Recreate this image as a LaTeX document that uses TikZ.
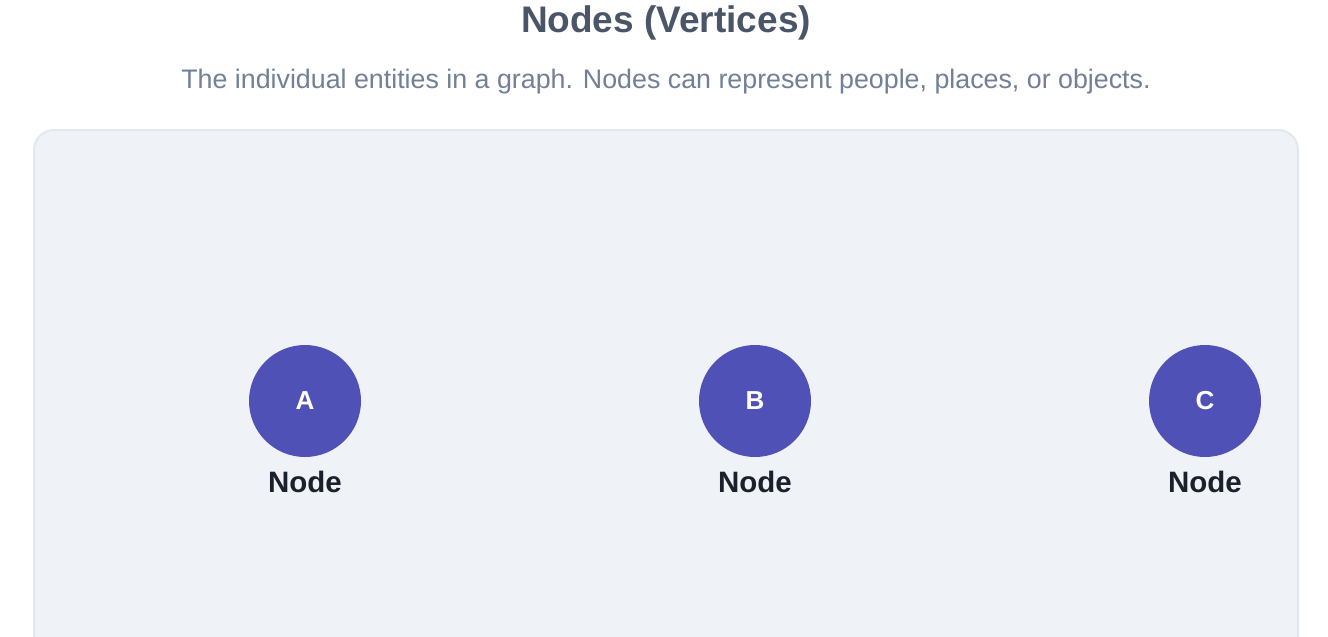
\documentclass[tikz,border=0pt]{standalone}
\usepackage{fontspec}
\setmainfont{Liberation Sans}
\usepackage{tikz}
\usetikzlibrary{positioning}
\definecolor{titlegray}{HTML}{4A5568}
\definecolor{subgray}{HTML}{718096}
\definecolor{panelfill}{HTML}{EFF3F7}
\definecolor{panelline}{HTML}{E2E8F0}
\definecolor{vertexblue}{HTML}{4F51B6}
\definecolor{labeldark}{HTML}{1A202C}

\begin{document}
\begin{tikzpicture}[x = 1pt, y = -1pt,
  vertex/.style = {circle, fill = vertexblue, minimum size = 112pt, inner sep = 0,
    text = white, font = \fontsize{26}{28}\selectfont\bfseries},
  caption/.style = {text = labeldark, font = \fontsize{29.5}{32}\selectfont\bfseries}]
  \useasboundingbox (0, 0) rectangle (1328, 637);
  \clip (0, 0) rectangle (1328, 637);
  \fill[white] (0, 0) rectangle (1328, 637);
  \node (title) at (666, 23) [text = titlegray, font = \fontsize{37}{40}\selectfont\bfseries] {Nodes (Vertices)};
  \node (sub) at (666, 82) [text = subgray, font = \fontsize{26.8}{30}\selectfont] {The individual entities in a graph. Nodes can represent people, places, or objects.};
  \draw[panelline, fill = panelfill, line width = 2pt, rounded corners = 20pt] (34, 130) rectangle (1298, 700);
  \node (a) at (305, 401) [vertex] {A};
  \node (b) at (755, 401) [vertex] {B};
  \node (c) at (1205, 401) [vertex] {C};
  \node (alabel) at (305, 482) [caption] {Node};
  \node (blabel) at (755, 482) [caption] {Node};
  \node (clabel) at (1205, 482) [caption] {Node};
\end{tikzpicture}
\end{document}
